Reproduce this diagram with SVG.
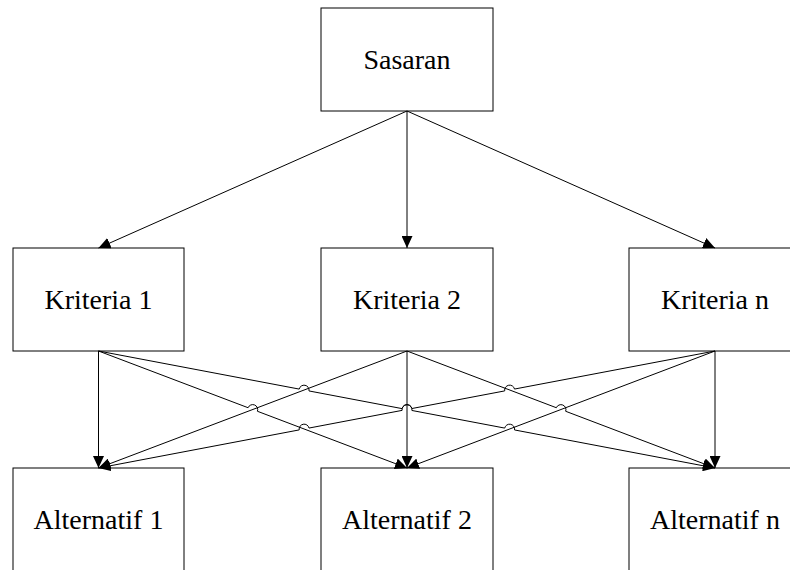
<svg xmlns="http://www.w3.org/2000/svg" width="790" height="570" viewBox="0 0 790 570">
<style>
.box{fill:#fff;stroke:#000;stroke-width:1}
.lbl{font-size:28px;fill:#000;text-anchor:middle}
.edge{fill:none;stroke:#000;stroke-width:1;marker-end:url(#arr)}
</style>
<defs>
<marker id="arr" viewBox="0 0 12 11" refX="12" refY="5.5" markerWidth="12" markerHeight="11" markerUnits="userSpaceOnUse" orient="auto">
<path d="M0,0 L12,5.5 L0,11 z" fill="#000"/>
</marker>
</defs>
<rect width="790" height="570" fill="#fff"/>
<g font-family="Liberation Serif, serif">
<g id="sasaran"><rect class="box" x="321" y="8" width="172" height="103"/><text class="lbl" x="407" y="69">Sasaran</text></g>
<g id="kriteria1"><rect class="box" x="13" y="248" width="171" height="103"/><text class="lbl" x="98.5" y="309">Kriteria 1</text></g>
<g id="kriteria2"><rect class="box" x="321" y="248" width="172" height="103"/><text class="lbl" x="407" y="309">Kriteria 2</text></g>
<g id="kriterian"><rect class="box" x="629" y="248" width="172" height="103"/><text class="lbl" x="715" y="309">Kriteria n</text></g>
<g id="alternatif1"><rect class="box" x="13" y="468" width="171" height="103"/><text class="lbl" x="98.5" y="529">Alternatif 1</text></g>
<g id="alternatif2"><rect class="box" x="321" y="468" width="172" height="103"/><text class="lbl" x="407" y="529">Alternatif 2</text></g>
<g id="alternatifn"><rect class="box" x="629" y="468" width="172" height="103"/><text class="lbl" x="715" y="529">Alternatif n</text></g>
</g>
<g id="connectors">
<path class="edge" d="M407,111 L98.5,248"/>
<path class="edge" d="M407,111 L407,248"/>
<path class="edge" d="M407,111 L715,248"/>
<path class="edge" d="M98.5,351 L98.5,468"/>
<path class="edge" d="M98.5,351 L248.08,407.73 A5,5 0 0 1 257.43,411.27 L407,468"/>
<path class="edge" d="M98.5,351 L299.19,389.09 A5,5 0 0 1 309.01,390.95 L402.09,408.62 A5,5 0 0 1 411.91,410.48 L504.70,428.09 A5,5 0 0 1 514.52,429.95 L715,468"/>
<path class="edge" d="M407,351 L98.5,468"/>
<path class="edge" d="M407,351 L407,468"/>
<path class="edge" d="M407,351 L556.33,407.72 A5,5 0 0 1 565.67,411.28 L715,468"/>
<path class="edge" d="M715,351 L514.52,389.05 A5,5 0 0 0 504.70,390.91 L411.91,408.52 A5,5 0 0 0 402.09,410.38 L309.02,428.05 A5,5 0 0 0 299.20,429.91 L98.5,468"/>
<path class="edge" d="M715,351 L407,468"/>
<path class="edge" d="M715,351 L715,468"/>
</g>
</svg>
